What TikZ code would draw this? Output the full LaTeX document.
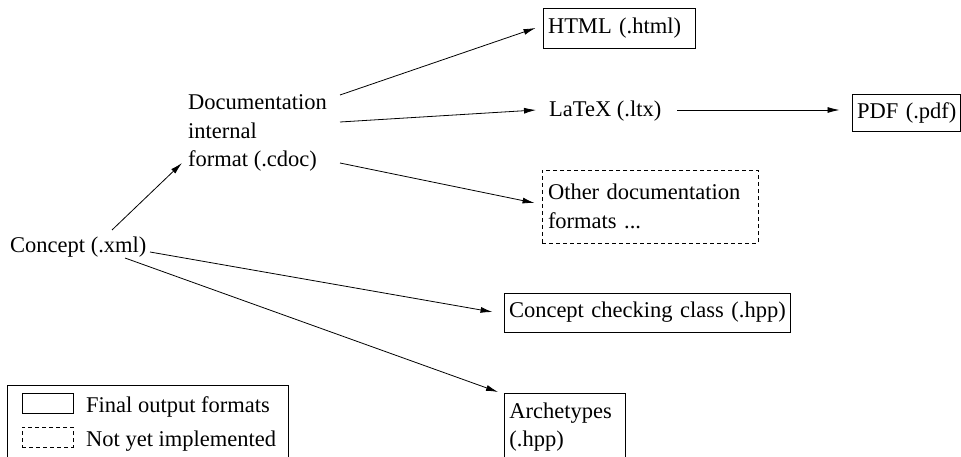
\documentclass[tikz,border=0pt]{standalone}
\usepackage{fontspec}
\setmainfont{Liberation Serif}
\usetikzlibrary{arrows.meta}

\tikzset{
  lbl/.style={inner sep=0pt, font=\fontsize{22.5}{28.5}\selectfont, align=left},
  outbox/.style={draw, line width=0.9pt, inner xsep=5pt, inner ysep=0pt,
    font=\fontsize{22.5}{28.5}\selectfont, align=left},
  todobox/.style={outbox, dash pattern=on 4pt off 3pt},
  keybox/.style={draw, line width=0.9pt, minimum width=51pt, minimum height=20pt, inner sep=0pt},
  flow/.style={line width=0.8pt, -{Latex[length=12pt,width=6pt]}}
}

\begin{document}
\begin{tikzpicture}[x=1pt, y=-1pt]
  \useasboundingbox (0,0) rectangle (961,457);

  % sources and intermediate format (base anchor sits on the last line)
  \node[lbl, anchor=base west] (concept) at (10,252) {Concept (.xml)};
  \node[lbl, anchor=base west] (doc) at (188,167) {Documentation\\internal\\format (.cdoc)};
  \node[lbl, anchor=base west] (latex) at (549,117) {LaTeX (.ltx)};

  % generated outputs
  \node[outbox, text width=142pt, minimum height=40pt] (html) at (619,28) {\mbox{HTML (.html)}};
  \node[outbox, text width=98pt, minimum height=37pt] (pdf) at (906,112.5) {\mbox{PDF (.pdf)}};
  \node[todobox, text width=204pt, minimum height=73pt, inner xsep=6pt] (other) at (650,206.5) {\mbox{Other documentation}\\\mbox{formats ...}};
  \node[outbox, text width=276pt, minimum height=39pt] (check) at (647,312.5) {\mbox{Concept checking class (.hpp)}};
  \node[outbox, text width=111pt, inner ysep=9pt, anchor=north west] (arch) at (504,393) {\mbox{Archetypes}\\\mbox{(.hpp)}};

  % conversions
  \draw[flow] ([shift={(102,-22)}]concept.base west) -- ([shift={(-6,-4)}]doc.base west);
  \draw[flow] ([shift={(152,-72)}]doc.base west) -- ([shift={(-7,0)}]html.west);
  \draw[flow] ([shift={(152,-45)}]doc.base west) -- ([shift={(-13,-7)}]latex.base west);
  \draw[flow] ([shift={(152,-4)}]doc.base west) -- ([shift={(-7,-3.5)}]other.west);
  \draw[flow] ([shift={(128,-7)}]latex.base west) -- ([shift={(-12,-2.5)}]pdf.west);
  \draw[flow] ([shift={(140,0)}]concept.base west) -- ([shift={(-11,-0.5)}]check.west);
  \draw[flow] ([shift={(115,6)}]concept.base west) -- ([shift={(-6,-1)}]arch.north west);

  % legend
  \node[draw, line width=0.9pt, anchor=north west, minimum width=281pt, minimum height=90pt, inner sep=0pt] (legend) at (7,385) {};
  \node[keybox] (solidkey) at (47.5,403) {};
  \node[keybox, dash pattern=on 4pt off 3pt] (dashkey) at (47.5,437) {};
  \node[lbl, anchor=base west] (solidtext) at (86,412) {Final output formats};
  \node[lbl, anchor=base west] (dashtext) at (86,446) {Not yet implemented};
\end{tikzpicture}
\end{document}
